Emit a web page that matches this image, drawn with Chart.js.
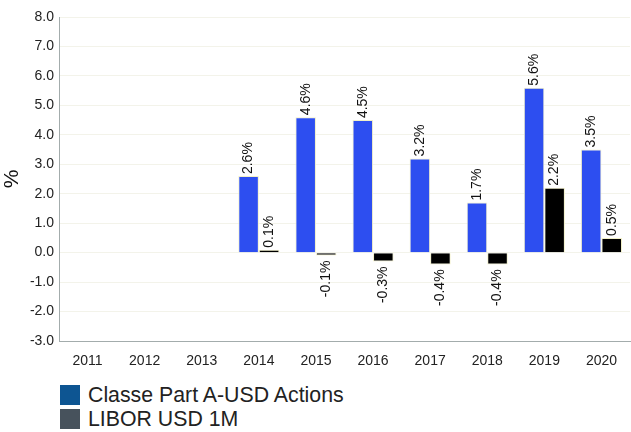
<!DOCTYPE html>
<html lang="en">
<head>
    <meta charset="UTF-8">
    <title>Performance annuelle</title>
    <script src="https://cdn.jsdelivr.net/npm/chart.js"></script>
    <style>
        body { margin: 0; background: #fff; font-family: "Liberation Sans", Arial, sans-serif; }
        .wrap { position: relative; width: 631px; height: 432px; overflow: hidden; }
        .chart-box { position: absolute; left: 0; top: 0; width: 631px; height: 372px; }
        .legend { position: absolute; left: 60px; top: 383px; }
        .legend-item { display: flex; align-items: center; height: 24px; font-size: 21.3px; color: #222; }
        .legend-item span.sw { width: 20px; height: 20px; margin-right: 8px; display: inline-block; }
    </style>
</head>
<body>
    <div class="wrap">
        <div class="chart-box"><canvas id="perfChart"></canvas></div>
        <div class="legend" id="legend"></div>
    </div>

    <script>
        // Data
        const years = ['2011', '2012', '2013', '2014', '2015', '2016', '2017', '2018', '2019', '2020'];
        const fundValues = [null, null, null, 2.6, 4.6, 4.5, 3.2, 1.7, 5.6, 3.5];
        const liborValues = [null, null, null, 0.1, -0.1, -0.3, -0.4, -0.4, 2.2, 0.5];
        const seriesNames = ['Classe Part A-USD Actions', 'LIBOR USD 1M'];
        const legendColors = ['#0d5592', '#47525c'];

        const FONT = '"Liberation Sans", Arial, sans-serif';

        // rotated value labels above / below the bars
        const barLabels = {
            id: 'barLabels',
            afterDatasetsDraw(chart) {
                const ctx = chart.ctx;
                ctx.save();
                ctx.font = '14px ' + FONT;
                ctx.fillStyle = '#111';
                ctx.textBaseline = 'middle';
                chart.data.datasets.forEach((ds, i) => {
                    chart.getDatasetMeta(i).data.forEach((bar, j) => {
                        const v = ds.data[j];
                        if (v === null) return;
                        const txt = v.toFixed(1) + '%';
                        ctx.save();
                        if (v >= 0) {
                            ctx.translate(bar.x, bar.y - 2);
                            ctx.rotate(-Math.PI / 2);
                            ctx.textAlign = 'left';
                        } else {
                            ctx.translate(bar.x, bar.y + 5);
                            ctx.rotate(-Math.PI / 2);
                            ctx.textAlign = 'right';
                        }
                        ctx.fillText(txt, 0, 0);
                        ctx.restore();
                    });
                });
                ctx.restore();
            }
        };

        const ctx = document.getElementById('perfChart').getContext('2d');
        new Chart(ctx, {
            type: 'bar',
            data: {
                labels: years,
                datasets: [{
                    label: seriesNames[0],
                    data: fundValues,
                    backgroundColor: '#2d4ef0',
                    borderColor: '#f2f0c8',
                    borderWidth: 1
                }, {
                    label: seriesNames[1],
                    data: liborValues,
                    backgroundColor: '#000000',
                    borderColor: '#f2f0c8',
                    borderWidth: 1
                }]
            },
            options: {
                responsive: true,
                maintainAspectRatio: false,
                animation: false,
                layout: { padding: { top: 17, right: 1, bottom: 1 } },
                datasets: { bar: { categoryPercentage: 0.72, barPercentage: 1 } },
                plugins: {
                    legend: { display: false },
                    tooltip: { enabled: false }
                },
                scales: {
                    x: {
                        grid: { display: false },
                        border: { color: '#a3acac', width: 1 },
                        ticks: {
                            color: '#222',
                            font: { size: 14, family: FONT },
                            padding: 4
                        },
                        afterFit(scale) { scale.height = 30; }
                    },
                    y: {
                        min: -3,
                        max: 8,
                        grid: { color: '#f3f3ea', drawTicks: false },
                        border: { color: '#a3acac', width: 1 },
                        ticks: {
                            stepSize: 1,
                            color: '#222',
                            padding: 5,
                            font: { size: 14, family: FONT },
                            callback: v => Number(v).toFixed(1)
                        },
                        title: {
                            display: true,
                            text: '%',
                            color: '#111',
                            font: { size: 21, family: FONT },
                            padding: { top: 0, bottom: 2 }
                        },
                        afterFit(scale) { scale.width = 59; }
                    }
                }
            },
            plugins: [barLabels]
        });

        // legend, stacked vertically like the original
        const legendEl = document.getElementById('legend');
        seriesNames.forEach((name, i) => {
            const item = document.createElement('div');
            item.className = 'legend-item';
            item.innerHTML = '<span class="sw" style="background:' + legendColors[i] + '"></span>' + name;
            legendEl.appendChild(item);
        });
    </script>
</body>
</html>
